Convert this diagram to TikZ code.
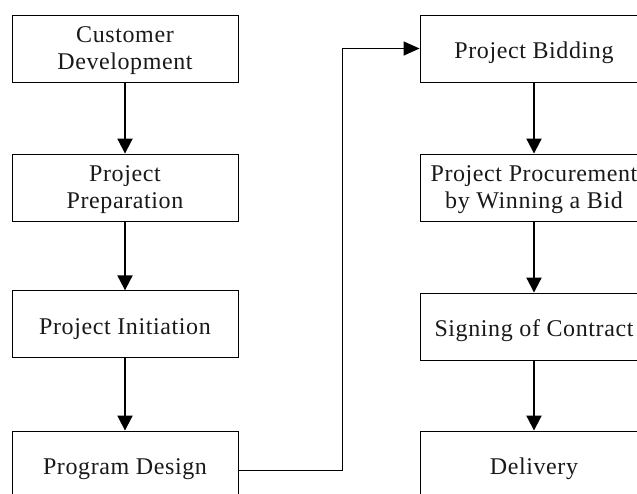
\documentclass[tikz,border=0pt]{standalone}
\usepackage{fontspec}
\setmainfont{Liberation Serif}[LetterSpace=2.5]
\usetikzlibrary{arrows.meta}
\begin{document}
\begin{tikzpicture}[x=1pt,y=-1pt,
  box/.style={draw=black,line width=0.9pt,minimum width=226pt,minimum height=67pt,inner sep=0pt,align=center,
    font=\fontsize{24}{27}\selectfont,text=black!90,text height=19.5pt,text depth=0pt},
  twoline/.style={text height=41.6pt},
  rbox/.style={box,minimum width=228pt},
  arr/.style={line width=2pt,-{Triangle[length=15pt,width=15pt]}},
  conn/.style={line width=1.5pt,-{Triangle[length=16pt,width=14pt]}}]
\useasboundingbox (0,0) rectangle (637,493);
\clip (0,0) rectangle (637,493);
\node[box,twoline] (cd) at (125,48.5) {Customer\\Development};
\node[box,twoline] (pp) at (125,187.5) {Project\\Preparation};
\node[box] (pi) at (125,324.3) {Project Initiation};
\node[box] (pd) at (125,464.5) {Program Design};
\node[rbox] (pb) at (534,48.5) {Project Bidding};
\node[rbox,twoline] (pw) at (534,187.5) {Project Procurement\\by Winning a Bid};
\node[rbox] (sc) at (534,326.5) {Signing of Contract};
\node[rbox] (dl) at (534,464.5) {Delivery};
\draw[arr] (cd) -- (pp);
\draw[arr] (pp) -- (pi);
\draw[arr] (pi) -- (pd);
\draw[arr] (pb) -- (pw);
\draw[arr] (pw) -- (sc);
\draw[arr] (sc) -- (dl);
\coordinate (turn) at (342.7,48.5);
\draw[conn] ([yshift=-6.2pt]pd.east) -| (turn) -- (pb.west);
\end{tikzpicture}
\end{document}
